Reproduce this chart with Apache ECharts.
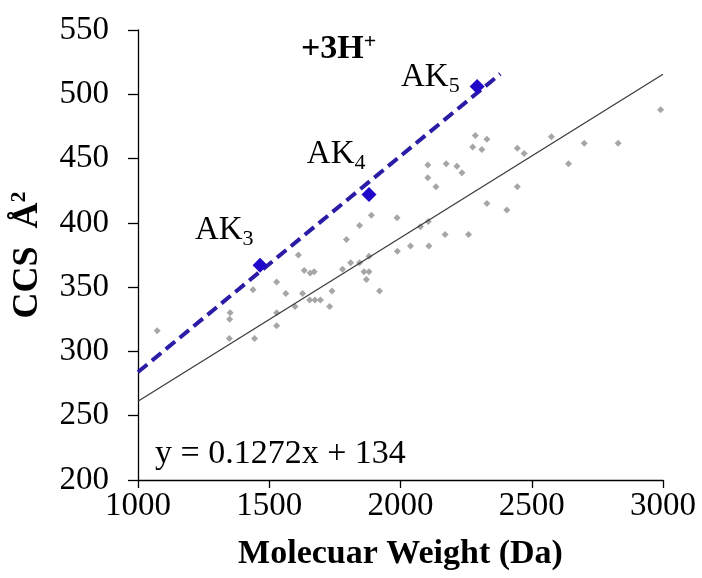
<!DOCTYPE html>
<html>
<head>
<meta charset="utf-8">
<title>CCS vs Molecular Weight (+3H+)</title>
<script src="https://cdn.jsdelivr.net/npm/echarts@6/dist/echarts.min.js"></script>
<style>
  html, body { margin: 0; padding: 0; background: #ffffff; }
  #chart { width: 702px; height: 578px; }
</style>
</head>
<body>
<div id="chart"></div>
<script>
// Peptide collision cross sections, triply protonated ions
const mwValues = [
  1073, 1351, 1349, 1348, 1438, 1444, 1528, 1528, 1528, 1563,
  1598, 1611, 1627, 1633, 1656, 1671, 1654, 1674, 1695, 1730,
  1739, 1779, 1794, 1810, 1844, 1844, 1861, 1880, 1880, 1870,
  1889, 1920, 1987, 1988, 2038, 2076, 2106, 2108, 2104, 2104,
  2135, 2174, 2170, 2215, 2234, 2259, 2275, 2285, 2310, 2329,
  2329, 2405, 2445, 2445, 2471, 2575, 2640, 2700, 2829, 2991
];
const ccsValues = [
  316, 330, 325, 310, 348, 310, 354, 330, 320, 345,
  335, 375, 345, 363, 361, 362, 340, 340, 340, 335,
  347, 364, 387, 369, 369, 398, 362, 362, 374, 356,
  406, 347, 404, 378, 382, 397, 401, 382, 445, 435,
  428, 446, 391, 444, 439, 391, 459, 468, 457, 465,
  415, 410, 428, 458, 454, 467, 446, 462, 462, 488
];

// AK peptide series
const akSubscripts = ['3', '4', '5'];
const akMw = [1465, 1880, 2292];
const akCcs = [367, 422, 506];

// Trend line of the full set
const fitSlope = 0.1272;
const fitIntercept = 134;
const fitRange = [1000, 3000];
// Extent of the AK fit line
const akRange = [1000, 2380];

// Axis ticks
const xTicks = [1000, 1500, 2000, 2500, 3000];
const yTicks = [200, 250, 300, 350, 400, 450, 500, 550];

// Label nudges for the AK tags (px, relative to marker)
const akLabelShift = [[1, -35], [4, -40], [-10, -9]];

// least squares through the AK points
function linFit(xs, ys) {
  const n = xs.length;
  const mx = xs.reduce((a, b) => a + b, 0) / n;
  const my = ys.reduce((a, b) => a + b, 0) / n;
  let sxy = 0, sxx = 0;
  for (let i = 0; i < n; i++) {
    sxy += (xs[i] - mx) * (ys[i] - my);
    sxx += (xs[i] - mx) * (xs[i] - mx);
  }
  const k = sxy / sxx;
  return { k: k, b: my - k * mx };
}
const akFit = linFit(akMw, akCcs);

const serif = '"Liberation Serif", "Times New Roman", serif';
const scatterData = mwValues.map((x, i) => [x, ccsValues[i]]);
const fitLine = fitRange.map(x => [x, fitSlope * x + fitIntercept]);
const akLine = akRange.map(x => [x, akFit.k * x + akFit.b]);
const akData = akMw.map((x, i) => ({
  value: [x, akCcs[i]],
  name: 'AK' + akSubscripts[i],
  label: { offset: akLabelShift[i] }
}));

const chart = echarts.init(document.getElementById('chart'), null, { renderer: 'canvas' });

chart.setOption({
  animation: false,
  backgroundColor: '#ffffff',
  grid: { left: 137, right: 39, top: 30, bottom: 98 },
  title: {
    left: 296,
    top: 26,
    text: '{b|+3H}{s|+}',
    textStyle: {
      rich: {
        b: { fontFamily: serif, fontWeight: 'bold', fontSize: 34, color: '#000', lineHeight: 36 },
        s: { fontFamily: serif, fontWeight: 'bold', fontSize: 22, color: '#000', verticalAlign: 'top', lineHeight: 22 }
      }
    }
  },
  graphic: [{
    type: 'text',
    left: 155,
    top: 437,
    style: {
      text: 'y = 0.1272x + 134',
      font: '34px ' + serif,
      fill: '#000'
    }
  }],
  xAxis: {
    type: 'value',
    min: xTicks[0],
    max: xTicks[xTicks.length - 1],
    interval: xTicks[1] - xTicks[0],
    name: 'Molecuar Weight (Da)',
    nameLocation: 'middle',
    nameGap: 57,
    nameTextStyle: { fontFamily: serif, fontWeight: 'bold', fontSize: 34, color: '#000' },
    axisLine: { show: true, onZero: false, lineStyle: { color: '#000', width: 1.3 } },
    axisTick: { show: true, inside: false, length: 8, lineStyle: { color: '#000', width: 1.3 } },
    axisLabel: { fontFamily: serif, fontSize: 33, color: '#000', margin: 10, formatter: v => String(v) },
    splitLine: { show: false }
  },
  yAxis: {
    type: 'value',
    min: yTicks[0],
    max: yTicks[yTicks.length - 1],
    interval: yTicks[1] - yTicks[0],
    name: '{a|CCS  Å}{s|2}',
    nameLocation: 'middle',
    nameGap: 90,
    nameTextStyle: {
      rich: {
        a: { fontFamily: serif, fontWeight: 'bold', fontSize: 36, color: '#000', lineHeight: 40 },
        s: { fontFamily: serif, fontWeight: 'bold', fontSize: 22, color: '#000', verticalAlign: 'top', lineHeight: 22 }
      }
    },
    axisLine: { show: true, onZero: false, lineStyle: { color: '#000', width: 1.3 } },
    axisTick: { show: true, inside: false, length: 10, lineStyle: { color: '#000', width: 1.3 } },
    axisLabel: { fontFamily: serif, fontSize: 33, color: '#000', margin: 29 },
    splitLine: { show: false }
  },
  series: [
    {
      name: 'peptides',
      type: 'scatter',
      symbol: 'diamond',
      symbolSize: 7,
      itemStyle: { color: '#a6a6a6', opacity: 1 },
      data: scatterData,
      z: 2
    },
    {
      name: 'trend',
      type: 'line',
      data: fitLine,
      symbol: 'none',
      lineStyle: { color: '#3c3c3c', width: 1.3 },
      z: 3
    },
    {
      name: 'AK trend',
      type: 'line',
      data: akLine,
      symbol: 'none',
      lineStyle: { color: '#2b1ca6', width: 4, type: [12, 6] },
      z: 4
    },
    {
      name: 'AK',
      type: 'scatter',
      symbol: 'diamond',
      symbolSize: 15,
      itemStyle: { color: '#2008c8', opacity: 1 },
      data: akData,
      z: 5,
      label: {
        show: true,
        position: 'left',
        distance: 0,
        formatter: p => '{a|AK}{s|' + p.name.slice(2) + '}',
        rich: {
          a: { fontFamily: serif, fontSize: 33, color: '#000', lineHeight: 40, verticalAlign: 'middle' },
          s: { fontFamily: serif, fontSize: 22, color: '#000', lineHeight: 20, verticalAlign: 'bottom' }
        }
      }
    }
  ]
});
</script>
</body>
</html>
